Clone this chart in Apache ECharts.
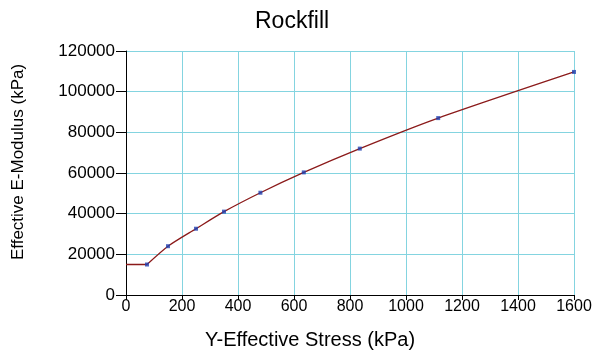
<!DOCTYPE html>
<html>
<head>
<meta charset="utf-8">
<script src="https://cdn.jsdelivr.net/npm/echarts@6/dist/echarts.min.js"></script>
<style>
  html, body { margin: 0; padding: 0; background: #fff; }
  #chart { width: 597px; height: 352px; }
</style>
</head>
<body>
<div id="chart"></div>
<script>
// measured points (kPa)
const stress = [75, 150, 250, 350, 480, 635, 835, 1115, 1600];
const modulus = [15000, 24000, 32600, 41000, 50300, 60300, 72000, 87000, 109700];
// constant part of the curve below the first point
const floorStress = [0, 75];
const floorModulus = [15000, 15000];

const floor = floorStress.map((x, i) => [x, floorModulus[i]]);
const points = stress.map((x, i) => [x, modulus[i]]);

const font = 'Liberation Sans, Arial, sans-serif';
const chart = echarts.init(document.getElementById('chart'));

chart.setOption({
  animation: false,
  title: {
    text: 'Rockfill',
    left: 250,
    top: 5,
    textStyle: { fontFamily: font, fontSize: 23, fontWeight: 'normal', color: '#000' }
  },
  grid: { left: 126, right: 23, top: 51, bottom: 57, outerBoundsMode: 'none' },
  xAxis: {
    type: 'value',
    min: 0, max: 1600, interval: 200,
    name: 'Y-Effective Stress (kPa)',
    nameLocation: 'middle',
    nameGap: 35,
    nameTextStyle: { fontFamily: font, fontSize: 20, color: '#000', padding: [0, 80, 0, 0] },
    axisLine: { onZero: false, lineStyle: { color: '#000', width: 1 } },
    axisTick: { show: true, length: 5, lineStyle: { color: '#000' } },
    axisLabel: { fontFamily: font, fontSize: 16, color: '#000', margin: 4, formatter: v => String(v) },
    splitLine: { show: true, lineStyle: { color: '#84d4e0', width: 1 } }
  },
  yAxis: {
    type: 'value',
    min: 0, max: 120000, interval: 20000,
    name: 'Effective E-Modulus (kPa)',
    nameLocation: 'middle',
    nameGap: 99,
    nameRotate: 90,
    nameTextStyle: { fontFamily: font, fontSize: 17, color: '#000', padding: [0, 0, 0, 22] },
    axisLine: { show: true, lineStyle: { color: '#000', width: 1 } },
    axisTick: { show: true, length: 10, lineStyle: { color: '#000' } },
    axisLabel: { fontFamily: font, fontSize: 17, color: '#000', margin: 11, formatter: v => String(v) },
    splitLine: { show: true, lineStyle: { color: '#84d4e0', width: 1 } }
  },
  series: [
    {
      type: 'line',
      data: floor,
      showSymbol: false,
      lineStyle: { color: '#8b1a1a', width: 1.3 },
      z: 3
    },
    {
      type: 'line',
      data: points,
      smooth: 0.25,
      showSymbol: false,
      lineStyle: { color: '#8b1a1a', width: 1.3 },
      z: 3
    },
    {
      type: 'scatter',
      data: points,
      symbol: 'rect',
      symbolSize: 4,
      itemStyle: { color: '#2040b0' },
      z: 4
    }
  ]
});
</script>
</body>
</html>
